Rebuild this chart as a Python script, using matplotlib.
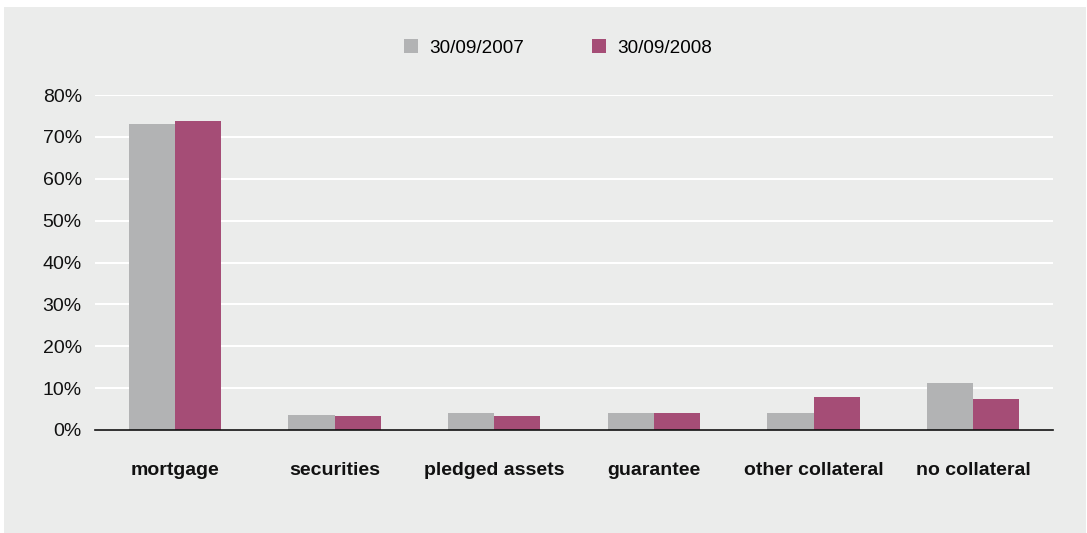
import matplotlib
matplotlib.use("Agg")
import matplotlib.pyplot as plt
from matplotlib.patches import Rectangle
from matplotlib.ticker import PercentFormatter
import numpy as np

plt.rcParams['font.family'] = ['Liberation Sans', 'DejaVu Sans']

categories = ["mortgage", "securities", "pledged assets", "guarantee",
              "other collateral", "no collateral"]
series_labels = ["30/09/2007", "30/09/2008"]
values_2007 = [73.0, 3.6, 4.1, 4.1, 4.1, 11.2]
values_2008 = [73.7, 3.3, 3.3, 4.1, 7.9, 7.4]
yticks = [0, 10, 20, 30, 40, 50, 60, 70, 80]

GREY = "#b2b3b4"
PLUM = "#a54d76"
PANEL = "#ebeceb"

W, H = 1087, 533
fig = plt.figure(figsize=(W / 100, H / 100), dpi=100)
fig.patch.set_facecolor("white")
fig.patches.append(Rectangle((4 / W, 0), 1082 / W, (H - 7) / H,
                             transform=fig.transFigure, facecolor=PANEL,
                             edgecolor="none", zorder=-10))

ax = fig.add_axes([95 / W, (H - 430) / H, (1053 - 95) / W, (430 - 95) / H])
ax.set_facecolor("none")

x = np.arange(len(categories))
bw = 0.29
ax.bar(x - bw / 2, values_2007, bw, color=GREY, label=series_labels[0], zorder=3)
ax.bar(x + bw / 2, values_2008, bw, color=PLUM, label=series_labels[1], zorder=3)

ax.set_xlim(-0.5, len(categories) - 0.5)
ax.set_ylim(0, 80)
ax.set_yticks(yticks)
ax.yaxis.set_major_formatter(PercentFormatter(decimals=0))
ax.grid(axis="y", color="white", linewidth=1.5, zorder=0)
for s in ["top", "right", "left"]:
    ax.spines[s].set_visible(False)
ax.spines["bottom"].set_color("#111111")
ax.spines["bottom"].set_linewidth(1.2)
ax.spines["bottom"].set_zorder(4)

ax.set_xticks(x)
ax.set_xticklabels(categories, fontsize=14, fontweight="bold", color="#111111")
ax.tick_params(axis="x", length=0, pad=23)
ax.tick_params(axis="y", length=0, pad=9.5, labelsize=14, labelcolor="#111111")

ax.legend(loc="center", bbox_to_anchor=(558 / W, (H - 48) / H),
          bbox_transform=fig.transFigure, ncol=2, frameon=False,
          fontsize=13.6, handlelength=0.75, handleheight=0.75,
          handletextpad=0.6, columnspacing=3.6)

fig.savefig("out.png", dpi=100, facecolor=fig.get_facecolor())
